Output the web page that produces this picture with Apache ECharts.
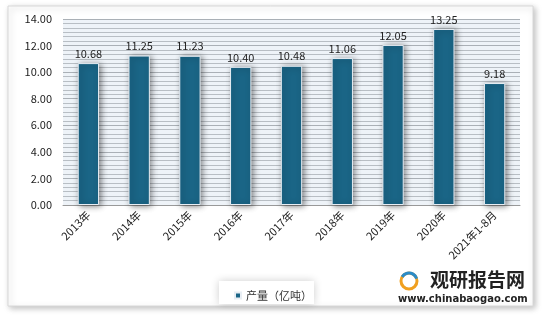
<!DOCTYPE html>
<html><head><meta charset="utf-8">
<script src="https://cdn.jsdelivr.net/npm/echarts@6/dist/echarts.min.js"></script>
<style>html,body{margin:0;padding:0;background:#fff}#c{width:542px;height:315px}</style>
</head><body><div id="c"></div>
<script>
var categories = ['2013年','2014年','2015年','2016年','2017年','2018年','2019年','2020年','2021年1-8月'];
var values = [10.68, 11.25, 11.23, 10.40, 10.48, 11.06, 12.05, 13.25, 9.18];
var seriesName = '产量（亿吨）';
var chart = echarts.init(document.getElementById('c'));
var ff = '"Noto Sans CJK SC", "Open Sans", sans-serif';
chart.setOption({
  animation: false,
  textStyle: {fontFamily: ff},
  graphic: [
    {type:'rect', shape:{x:8,y:6,width:525,height:300}, style:{fill:'#fff', stroke:'#d8d8d8', lineWidth:1, shadowBlur:6, shadowColor:'rgba(0,0,0,0.25)', shadowOffsetX:2, shadowOffsetY:2}, z:-10},
    {type:'rect', shape:{x:219,y:281,width:95,height:23}, style:{fill:'#fff', shadowBlur:8, shadowColor:'rgba(0,0,0,0.2)'}, z:-5},
    {type:'text', left:430, top:270, style:{text:'观研报告网', fill:'#222', font:'bold 19px "Noto Sans CJK SC"'}},
    {type:'text', left:398, top:294, style:{text:'www.chinabaogao.com', fill:'#222', font:'bold 10px "DejaVu Sans"'}},
    {type:'circle', shape:{cx:409,cy:281,r:8}, style:{fill:'none', stroke:'#f0a020', lineWidth:3}},
    {type:'arc', shape:{cx:409,cy:281,r:8,startAngle:-2.6,endAngle:-0.3}, style:{fill:'none', stroke:'#2a8bc8', lineWidth:3}}
  ],
  legend: {
    data: [seriesName], left: 229, top: 285, icon: 'rect', itemWidth: 6, itemHeight: 6, itemGap: 4,
    textStyle: {fontSize: 11, color: '#333', fontFamily: ff}
  },
  grid: {left: 63, right: 22, top: 19, bottom: 110, backgroundColor: '#eef3f8', show: true, borderWidth: 0},
  xAxis: {
    type: 'category', data: categories,
    axisLine: {lineStyle: {color: '#999'}}, axisTick: {show: false},
    axisLabel: {rotate: 45, interval: 0, fontSize: 11, color: '#222', fontFamily: ff, margin: 8}
  },
  yAxis: {
    type: 'value', min: 0, max: 14, interval: 2,
    axisLine: {show: false}, axisTick: {show: false},
    axisLabel: {formatter: function(v){return v.toFixed(2);}, fontSize: 11, color: '#222', fontFamily: ff, margin: 11},
    splitLine: {lineStyle: {color: '#aab0b6', width: 1}},
    minorTick: {show: false, splitNumber: 6},
    minorSplitLine: {show: true, lineStyle: {color: '#b8bec4', width: 1}}
  },
  series: [{
    name: seriesName, type: 'bar', data: values, barWidth: '42%',
    itemStyle: {color: '#1a6586', borderColor: '#e8eef4', borderWidth: 1, shadowBlur: 6, shadowColor: 'rgba(0,0,0,0.45)', shadowOffsetX: 2, shadowOffsetY: 1},
    label: {show: true, position: 'top', formatter: function(p){return p.value.toFixed(2);}, fontSize: 11, color: '#222', fontFamily: ff, distance: 4}
  }]
});
</script></body></html>
